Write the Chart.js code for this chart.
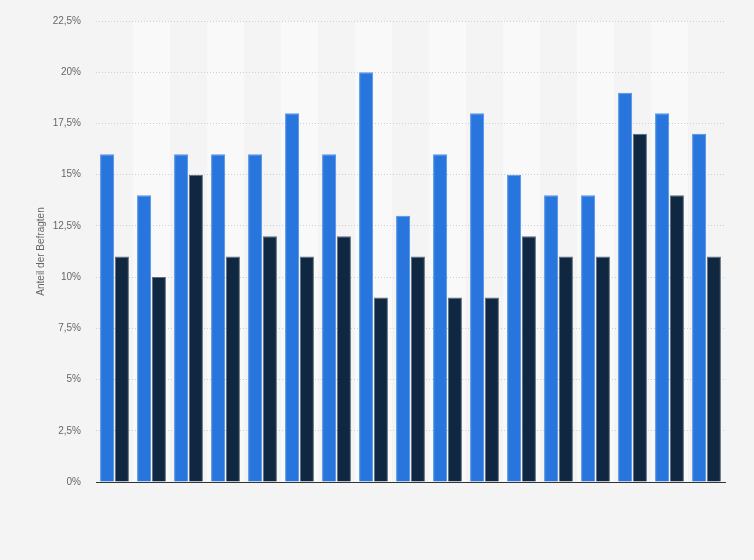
<!DOCTYPE html>
<html>
<head>
<meta charset="utf-8">
<script src="https://cdn.jsdelivr.net/npm/chart.js@4/dist/chart.umd.min.js"></script>
<style>
  html, body { margin: 0; padding: 0; background: #f4f4f4; }
  #wrap { width: 754px; height: 560px; }
</style>
</head>
<body>
<div id="wrap"><canvas id="chart"></canvas></div>
<script>
// categories are not labelled in the picture
const categories = ['1', '2', '3', '4', '5', '6', '7', '8', '9', '10', '11', '12', '13', '14', '15', '16', '17'];
const seriesA = [16, 14, 16, 16, 16, 18, 16, 20, 13, 16, 18, 15, 14, 14, 19, 18, 17];
const seriesB = [11, 10, 15, 11, 12, 11, 12, 9, 11, 9, 9, 12, 11, 11, 17, 14, 11];
const yTicks = [0, 2.5, 5, 7.5, 10, 12.5, 15, 17.5, 20, 22.5];

// light stripe behind every second category
const stripes = {
  id: 'stripes',
  beforeDraw(chart) {
    const { ctx, chartArea, scales } = chart;
    const x = scales.x;
    const w = (chartArea.right - chartArea.left) / categories.length;
    ctx.save();
    ctx.fillStyle = '#f9f9f9';
    categories.forEach((c, i) => {
      if (i % 2 === 1) {
        const cx = x.getPixelForValue(i);
        ctx.fillRect(cx - w / 2, chartArea.top, w, chartArea.bottom - chartArea.top);
      }
    });
    ctx.restore();
  }
};

new Chart(document.getElementById('chart'), {
  type: 'bar',
  data: {
    labels: categories,
    datasets: [
      {
        label: 'Serie 1',
        data: seriesA,
        backgroundColor: '#2876dd',
        borderColor: '#5393e6',
        borderWidth: 1,
        categoryPercentage: 0.8,
        barPercentage: 0.95
      },
      {
        label: 'Serie 2',
        data: seriesB,
        backgroundColor: '#0f2740',
        borderColor: '#5d6c7d',
        borderWidth: 1,
        categoryPercentage: 0.8,
        barPercentage: 0.95
      }
    ]
  },
  options: {
    responsive: true,
    maintainAspectRatio: false,
    animation: false,
    layout: { padding: { left: 35, right: 29, top: 14, bottom: 70 } },
    plugins: {
      legend: { display: false },
      tooltip: { enabled: false }
    },
    scales: {
      x: {
        grid: { display: false },
        ticks: { display: false },
        border: { display: true, color: '#333333', width: 1 }
      },
      y: {
        min: 0,
        max: 22.5,
        afterBuildTicks: (s) => { s.ticks = yTicks.map(v => ({ value: v })); },
        afterFit: (s) => { s.width = 61; },
        grid: { color: '#cfcfcf', drawTicks: false },
        border: { display: false, dash: [1, 2] },
        ticks: {
          padding: 15,
          color: '#666666',
          font: { family: 'Arial, Liberation Sans, sans-serif', size: 10 },
          callback: (v) => String(v).replace('.', ',') + '%'
        },
        title: {
          display: true,
          text: 'Anteil der Befragten',
          color: '#666666',
          padding: 0,
          font: { family: 'Arial, Liberation Sans, sans-serif', size: 10 }
        }
      }
    }
  },
  plugins: [stripes]
});
</script>
</body>
</html>
